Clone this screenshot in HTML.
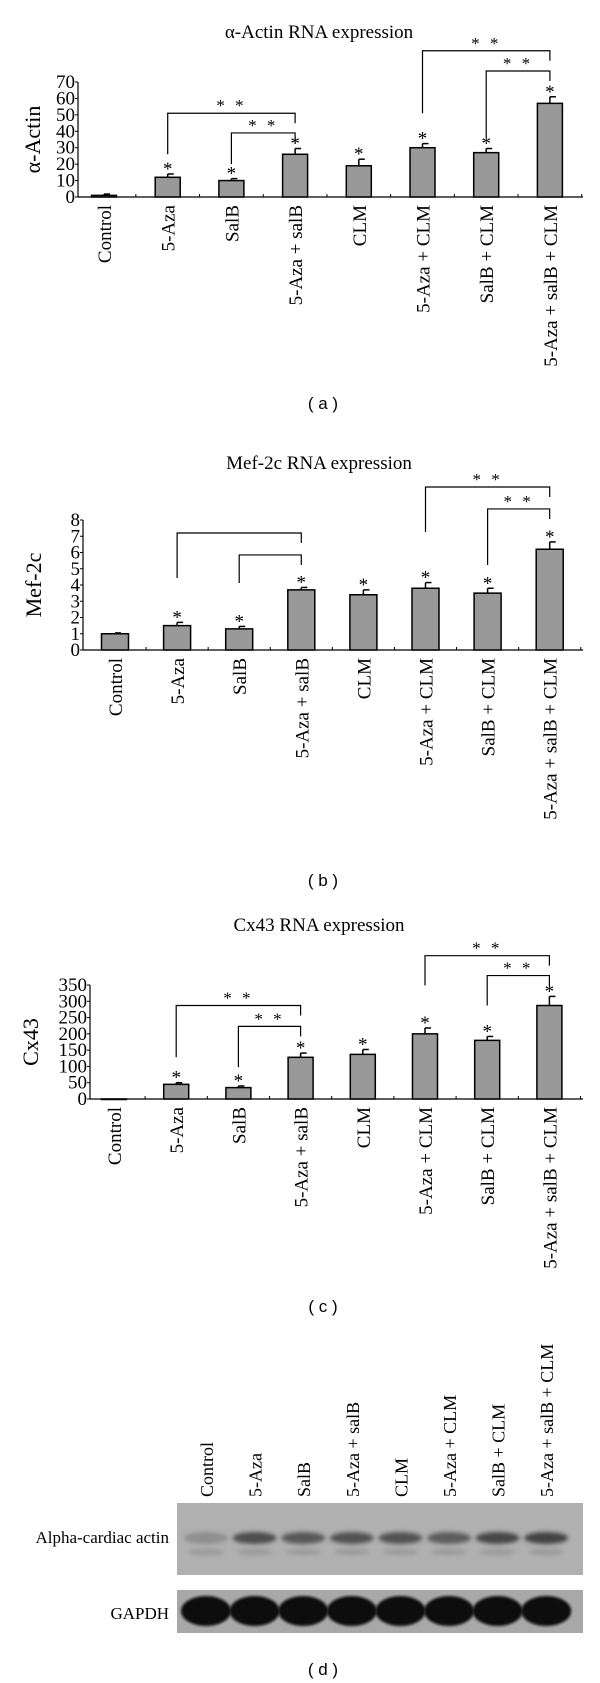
<!DOCTYPE html>
<html><head><meta charset="utf-8">
<style>
body{margin:0;background:#fff;}
svg{display:block;font-family:"Liberation Serif",serif;}
.cap{font-family:"Liberation Sans",sans-serif;font-size:17px;}
</style></head>
<body>
<svg id="fig" width="600" height="1683" viewBox="0 0 600 1683" xmlns="http://www.w3.org/2000/svg">
<defs>
<filter id="blur2" x="-20%" y="-50%" width="140%" height="200%"><feGaussianBlur stdDeviation="2.2"/></filter>
<filter id="blur1" x="-20%" y="-50%" width="140%" height="200%"><feGaussianBlur stdDeviation="1.2"/></filter>
</defs>
</svg>
<script>
const categories = ["Control","5-Aza","SalB","5-Aza + salB","CLM","5-Aza + CLM","SalB + CLM","5-Aza + salB + CLM"];
const aValues = [1, 12, 10, 26, 19, 30, 27, 57];
const aErrors = [0.8, 2, 1.2, 3.5, 4, 2.5, 2.5, 4];
const aTicks = [0,10,20,30,40,50,60,70];
const aStars = [false,true,true,true,true,true,true,true];
const aBrackets = [[1,3,51,26,"**"],[2,3,39,20,"**"],[5,7,89,51,"**"],[6,7,76.7,36.5,"**"]];
const bValues = [1.0, 1.5, 1.3, 3.7, 3.4, 3.8, 3.5, 6.2];
const bErrors = [0.05, 0.2, 0.15, 0.15, 0.3, 0.35, 0.3, 0.45];
const bTicks = [0,1,2,3,4,5,6,7,8];
const bStars = [false,true,true,true,true,true,true,true];
const bBrackets = [[1,3,7.2,4.43,""],[2,3,5.85,4.12,""],[5,7,10.03,7.26,"**"],[6,7,8.68,5.23,"**"]];
const cValues = [0, 45, 35, 128, 137, 200, 180, 287];
const cErrors = [0, 5, 5, 13, 15, 18, 12, 28];
const cTicks = [0,50,100,150,200,250,300,350];
const cStars = [false,true,true,true,true,true,true,true];
const cBrackets = [[1,3,287,128,"**"],[2,3,223,98,"**"],[5,7,440,349,"**"],[6,7,379,287,"**"]];
const blotLanes = ["Control","5-Aza","SalB","5-Aza + salB","CLM","5-Aza + CLM","SalB + CLM","5-Aza + salB + CLM"];
const actinIntensity = [0.25, 0.85, 0.75, 0.8, 0.8, 0.7, 0.9, 0.95];
const gapdhIntensity = [1,1,1,1,1,1,1,1];

const NS="http://www.w3.org/2000/svg";
const svg=document.getElementById('fig');
function mk(tag,attrs,parent,text){const e=document.createElementNS(NS,tag);for(const k in attrs)e.setAttribute(k,attrs[k]);if(text!==undefined)e.textContent=text;(parent||svg).appendChild(e);return e;}

function drawChart(cfg){
  const g=mk('g',{});
  
  
  const ymax=cfg.ticks[cfg.ticks.length-1];
  const y=v=>cfg.y0-(v/ymax)*(cfg.y0-cfg.yTop);
  const x=i=>cfg.x0+i*cfg.step;
  const t=mk('text',{x:cfg.titleX,y:cfg.titleY,'text-anchor':'middle','font-size':19},g,cfg.title);
  
  
  const yt=mk('text',{x:0,y:0,'text-anchor':'middle','font-size':22,transform:`translate(${cfg.yTitleX},${(cfg.y0+cfg.yTop)/2}) rotate(-90)`},g,cfg.yTitle);
  
  
  const ya=mk('line',{x1:cfg.axisX,y1:cfg.yTop,x2:cfg.axisX,y2:cfg.y0,stroke:'#000','stroke-width':1.2},g);
  
  
  const xa=mk('line',{x1:cfg.axisX,y1:cfg.y0,x2:cfg.axisEnd,y2:cfg.y0,stroke:'#000','stroke-width':1.2},g);
  
  
  cfg.ticks.forEach(v=>{
    mk('line',{x1:cfg.axisX-3,y1:y(v),x2:cfg.axisX,y2:y(v),stroke:'#000','stroke-width':1},g);
    const tl=mk('text',{x:cfg.axisX-3,y:y(v)+6,'text-anchor':'end','font-size':19},g,String(v));
    
    
  });
  for(let i=0;i<categories.length;i++){
    const mx=x(i)+cfg.step/2;
    mk('line',{x1:mx,y1:cfg.y0,x2:mx,y2:cfg.y0-3,stroke:'#000','stroke-width':1},g);
  }
  cfg.values.forEach((v,i)=>{
    const bw=cfg.bw;
    const top=y(v);
    const r=mk('rect',{x:x(i)-bw/2,y:top,width:bw,height:Math.max(cfg.y0-top,0.5),fill:'#999',stroke:'#000','stroke-width':1.5},g);
    
    
    const et=y(v+cfg.errors[i]);
    if(cfg.errors[i]>0){
      mk('line',{x1:x(i),y1:top,x2:x(i),y2:et,stroke:'#000','stroke-width':1.5},g);
      mk('line',{x1:x(i),y1:et,x2:x(i)+6,y2:et,stroke:'#000','stroke-width':1.5},g);
    }
    if(cfg.stars[i]){
      const s=mk('text',{x:x(i),y:et+1,'text-anchor':'middle','font-size':19},g,'*');
      
      
    }
    const lab=mk('text',{x:0,y:0,'text-anchor':'end','font-size':19,transform:`translate(${x(i)+7},${cfg.y0+8}) rotate(-90)`},g,categories[i]);
    
    
  });
  cfg.brackets.forEach(b=>{
    const [i,j,topV,leftV,lbl]=b;
    const yt2=y(topV);
    const p=mk('path',{d:`M${x(i)},${y(leftV)} V${yt2} H${x(j)} V${yt2+10}`,fill:'none',stroke:'#000','stroke-width':1.2},g);
    
    
    if(lbl){
      const s=mk('text',{x:(x(i)+x(j))/2,y:yt2-2,'text-anchor':'middle','font-size':17,'letter-spacing':'3'},g,lbl.split('').join(' '));
      
      
    }
  });
  const cap=mk('text',{x:323,y:cfg.capY,'text-anchor':'middle',class:'cap'},g,cfg.cap);
  
  
}

drawChart({name:'alpha-actin-chart',title:'\u03B1-Actin RNA expression',titleX:319,titleY:38,yTitle:'\u03B1-Actin',yTitleX:40,
  values:aValues,errors:aErrors,ticks:aTicks,stars:aStars,brackets:aBrackets,
  y0:197,yTop:82,axisX:78,axisEnd:583,x0:104,step:63.7,bw:25,capY:409,cap:'( a )'});
drawChart({name:'mef2c-chart',title:'Mef-2c RNA expression',titleX:319,titleY:469,yTitle:'Mef-2c',yTitleX:41,
  values:bValues,errors:bErrors,ticks:bTicks,stars:bStars,brackets:bBrackets,
  y0:650,yTop:520,axisX:83,axisEnd:583,x0:115,step:62.1,bw:27,capY:886,cap:'( b )'});
drawChart({name:'cx43-chart',title:'Cx43 RNA expression',titleX:319,titleY:931,yTitle:'Cx43',yTitleX:38,
  values:cValues,errors:cErrors,ticks:cTicks,stars:cStars,brackets:cBrackets,
  y0:1099,yTop:985,axisX:90,axisEnd:583,x0:114,step:62.2,bw:25,capY:1312,cap:'( c )'});

const wb=mk('g',{});


const b1=mk('rect',{x:177,y:1503,width:406,height:72,fill:'#b0b0b0'},wb);


const b2=mk('rect',{x:177,y:1590,width:406,height:43,fill:'#a8a8a8'},wb);


const laneX=i=>206+i*48.6;
blotLanes.forEach((n,i)=>{
  const lab=mk('text',{x:0,y:0,'font-size':18,transform:`translate(${laneX(i)+7},1497) rotate(-90)`},wb,n);
  
  
  const a=actinIntensity[i];
  const g1=Math.round(170-a*110);
  const band=mk('ellipse',{cx:laneX(i),cy:1538,rx:22,ry:6,fill:`rgb(${g1},${g1},${g1})`,filter:'url(#blur2)'},wb);
  
  
  mk('ellipse',{cx:laneX(i),cy:1552,rx:18,ry:3,fill:'#999',filter:'url(#blur2)'},wb);
  const gg=Math.round(60-gapdhIntensity[i]*45);
  const gb=mk('ellipse',{cx:laneX(i),cy:1611,rx:25,ry:15,fill:`rgb(${gg},${gg},${gg})`,filter:'url(#blur1)'},wb);
  
  
});
const l1=mk('text',{x:169,y:1543,'text-anchor':'end','font-size':17},wb,'Alpha-cardiac actin');


const l2=mk('text',{x:169,y:1619,'text-anchor':'end','font-size':17},wb,'GAPDH');


const cd=mk('text',{x:323,y:1675,'text-anchor':'middle',class:'cap'},wb,'( d )');


</script>
</body></html>
